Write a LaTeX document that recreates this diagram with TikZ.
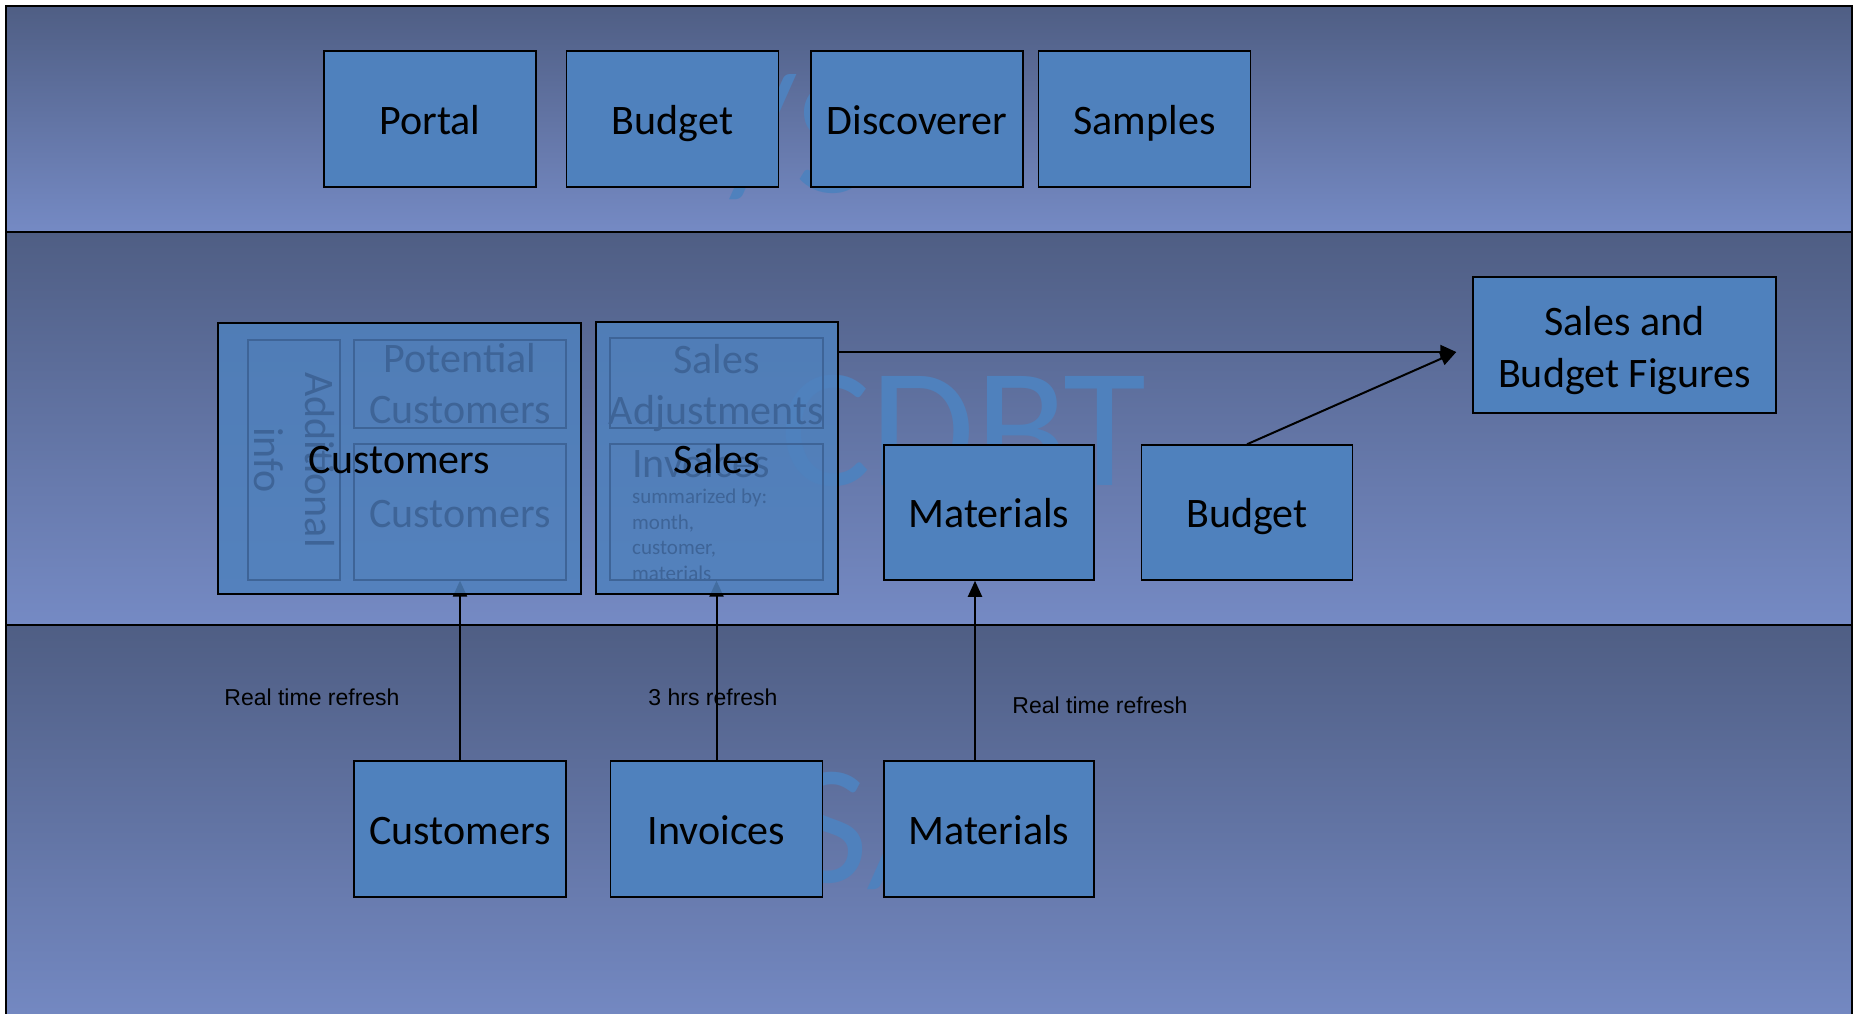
\documentclass[tikz,border=0pt]{standalone}
\usepackage{fontspec}
\setmainfont{Carlito}
\newfontfamily\arialfont{Liberation Sans}
\usetikzlibrary{arrows.meta,positioning}
\pgfdeclarelayer{bands}
\pgfdeclarelayer{wires}
\pgfsetlayers{bands,wires,main}
\definecolor{bandtop}{HTML}{4F5E84}
\definecolor{bandbot}{HTML}{758AC4}
\definecolor{boxfill}{HTML}{4F81BD}
\definecolor{faded}{HTML}{3E6497}
\tikzset{
    box/.style={draw=black,line width=1.5pt,fill=boxfill,minimum width=212pt,minimum height=136pt,
        inner sep=0pt,align=center,font=\fontsize{42}{51}\selectfont,text height=34pt,text depth=4pt},
    twoline/.style={text height=,text depth=},
    group/.style={draw=black,line width=1.5pt,fill=boxfill,fill opacity=0.85,inner sep=0pt},
    inbox/.style={draw=faded,line width=1.2pt,inner sep=0pt},
    fadetext/.style={text=faded,inner sep=0pt,align=center,font=\fontsize{42}{51}\selectfont},
    big/.style={inner sep=0pt,font=\fontsize{42}{51}\selectfont,text height=34pt,text depth=4pt},
    lbl/.style={inner sep=0pt,font=\arialfont\fontsize{23}{28}\selectfont},
    band/.style={draw=black,line width=2pt,top color=bandtop,bottom color=bandbot},
    wmark/.style={text=boxfill,inner sep=0pt,font=\fontsize{170}{170}\selectfont},
    wire/.style={line width=2pt,-{Triangle[length=16pt,width=14pt]}}
}
\begin{document}
\begin{tikzpicture}[x=1pt,y=-1pt]
    \useasboundingbox (0,0) rectangle (1855,1013);
    \begin{pgfonlayer}{bands}
        \path[band] (6,6) rectangle (1852,232);
        \path[band] (6,232) rectangle (1852,625);
        \path[band] (6,625) rectangle (1852,1030);
        % watermarks
        \node[wmark,anchor=base west] (wmTop) at (730,192) {/S};
        \node[wmark,anchor=base west] (wmMid) at (780,485) {CDBT};
        \node[wmark,anchor=base west] (wmBot) at (790,882) {S/};
    \end{pgfonlayer}

    % top band
    \node[box] (portal) at (430,119) {Portal};
    \node[box] (budT) [right=29pt of portal] {Budget};
    \node[box] (disc) [right=31pt of budT] {Discoverer};
    \node[box] (samp) [right=14pt of disc] {Samples};

    % middle band
    \node[group,minimum width=363pt,minimum height=271pt] (custG) at (399.5,458.5) {};
    \node[inbox,minimum width=92pt,minimum height=240pt] (addl) at (294,460) {};
    \node[inbox,minimum width=212pt,minimum height=88pt] (potC) at (460,384) {};
    \node[inbox,minimum width=212pt,minimum height=136pt] (custIn) at (460,512) {};
    \node[fadetext,rotate=-90] (addlTxt) at (addl) {Additional\\info};
    \node[fadetext] (potTxt) at (potC) {Potential\\Customers};
    \node[fadetext] (custInTxt) at (460,514) {Customers};
    \node[big] (custLbl) at (custG) {Customers};

    \node[group,minimum width=242pt,minimum height=272pt] (salesG) at (717,458) {};
    \node[inbox,minimum width=213pt,minimum height=90pt] (adj) at (716.5,383) {};
    \node[inbox,minimum width=213pt,minimum height=136pt] (invIn) at (716.5,512) {};
    \node[fadetext] (adjTxt) at (716.5,388) {Sales\\Adjustments};
    \node[fadetext,anchor=base west] (invTxt) at (632,477) {Invoices};
    \node[fadetext,anchor=north west,align=left,font=\fontsize{21}{25.5}\selectfont] (invSum) at (632,489)
        {summarized by:\\month,\\customer,\\materials};
    \node[big] (salesLbl) at (salesG) {Sales};

    \node[box,minimum width=210pt,minimum height=135pt] (matM) at (989,512.5) {Materials};
    \node[box,minimum width=211pt,minimum height=135pt] (budM) [right=46pt of matM] {Budget};
    \node[box,twoline,minimum width=303pt] (figs) at (1624.5,345)
        {\rule{0pt}{40pt}Sales and\\[1pt]Budget Figures};
    \coordinate (tip) at ([xshift=-16pt,yshift=-7pt]figs.west);

    % bottom band
    \node[box] (custS) at (460,829) {Customers};
    \node[box] (invS) at (716.5,829) {Invoices};
    \node[box,minimum width=210pt] (matS) at (989,829) {Materials};

    \node[lbl] (lblCust) at (312,697) {Real time refresh};
    \node[lbl] (lblInv) at (713,697) {3 hrs refresh};
    \node[lbl] (lblMat) at (1100,705) {Real time refresh};

    \begin{pgfonlayer}{wires}
        \path[wire]
            (custS) edge (custIn)
            (invS) edge (invIn)
            ([xshift=-14pt]matS.north) edge ([xshift=-14pt]matM.south);
        \draw[wire] (salesG.east |- tip) -- (tip);
        \draw[wire] (budM.north) -- (tip);
    \end{pgfonlayer}
\end{tikzpicture}
\end{document}
